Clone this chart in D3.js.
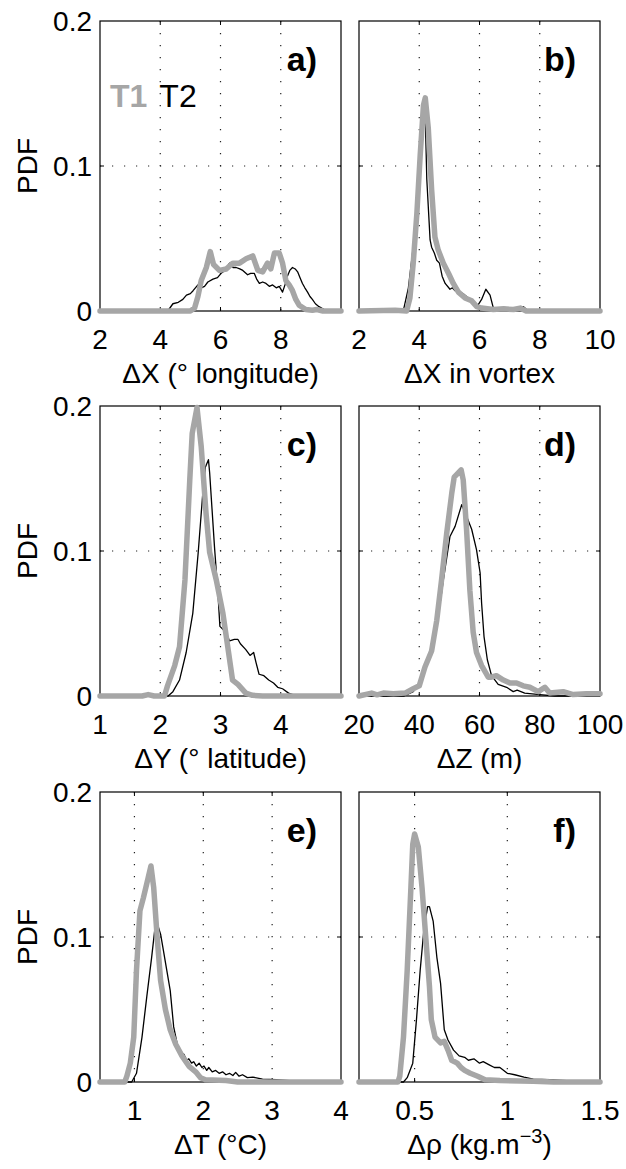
<!DOCTYPE html>
<html>
<head>
<meta charset="utf-8">
<script src="https://cdnjs.cloudflare.com/ajax/libs/d3/7.8.5/d3.min.js"></script>
<style>
  body { margin: 0; background: #fff; }
  svg text { font-family: "Liberation Sans", Arial, Helvetica, sans-serif; }
</style>
</head>
<body>
<div id="chart"></div>
<script>
// ---- data: [x, pdf] pairs ----
var a_T1 = [[2,0],[5.0,0],[5.14,0.002],[5.25,0.010],[5.36,0.021],[5.53,0.030],[5.66,0.041],[5.77,0.032],[5.97,0.028],[6.19,0.029],[6.41,0.033],[6.63,0.033],[6.85,0.036],[7.07,0.038],[7.24,0.028],[7.40,0.027],[7.56,0.033],[7.67,0.029],[7.79,0.040],[7.95,0.040],[8.06,0.033],[8.17,0.021],[8.28,0.018],[8.39,0.014],[8.50,0.008],[8.61,0.004],[8.83,0.001],[9.05,0.0005],[9.2,0.001],[9.4,0],[10,0]];
var a_T2 = [[2,0],[4.25,0],[4.42,0.005],[4.6,0.006],[4.75,0.008],[4.87,0.011],[5.0,0.012],[5.09,0.014],[5.25,0.018],[5.36,0.016],[5.47,0.017],[5.58,0.020],[5.75,0.022],[5.9,0.023],[6.02,0.026],[6.15,0.028],[6.30,0.033],[6.42,0.030],[6.52,0.030],[6.64,0.029],[6.74,0.028],[6.90,0.025],[7.0,0.026],[7.12,0.026],[7.2,0.022],[7.29,0.019],[7.4,0.020],[7.51,0.019],[7.62,0.017],[7.73,0.018],[7.85,0.016],[7.95,0.017],[8.06,0.013],[8.14,0.018],[8.22,0.024],[8.3,0.028],[8.39,0.030],[8.48,0.029],[8.56,0.027],[8.64,0.023],[8.72,0.019],[8.80,0.016],[8.89,0.013],[8.97,0.010],[9.05,0.008],[9.15,0.005],[9.27,0.003],[9.44,0.001],[9.6,0],[10,0]];

var b_T1 = [[2,0],[3.2,0.0005],[3.58,0],[3.69,0.009],[3.80,0.033],[3.92,0.067],[4.03,0.107],[4.14,0.142],[4.20,0.147],[4.30,0.126],[4.41,0.084],[4.52,0.051],[4.63,0.042],[4.80,0.033],[4.97,0.026],[5.13,0.019],[5.30,0.013],[5.52,0.009],[5.74,0.007],[5.91,0.003],[6.07,0.002],[6.46,0.001],[6.8,0.0015],[7.13,0.001],[7.35,0.002],[7.55,0],[10,0]];
var b_T2 = [[2,0],[3.47,0],[3.64,0.016],[3.80,0.044],[3.92,0.072],[4.03,0.107],[4.14,0.128],[4.20,0.134],[4.25,0.091],[4.36,0.049],[4.41,0.044],[4.50,0.040],[4.58,0.035],[4.67,0.033],[4.76,0.024],[4.86,0.019],[5.02,0.015],[5.10,0.016],[5.19,0.014],[5.35,0.013],[5.45,0.012],[5.57,0.010],[5.79,0.005],[5.95,0.004],[6.07,0.008],[6.21,0.015],[6.35,0.011],[6.46,0.002],[6.68,0.001],[7.0,0.001],[7.24,0.002],[7.46,0.003],[7.62,0],[10,0]];

var c_T1 = [[1,0],[1.7,0],[1.8,0.001],[1.9,0],[2.07,0],[2.12,0.007],[2.24,0.021],[2.32,0.034],[2.41,0.080],[2.49,0.149],[2.53,0.181],[2.61,0.199],[2.68,0.172],[2.76,0.126],[2.82,0.099],[2.93,0.080],[3.04,0.057],[3.12,0.034],[3.20,0.011],[3.29,0.008],[3.42,0.002],[3.53,0.0005],[3.7,0],[5,0]];
var c_T2 = [[1,0],[2.13,0],[2.21,0.003],[2.32,0.011],[2.43,0.030],[2.54,0.057],[2.63,0.099],[2.71,0.142],[2.75,0.158],[2.80,0.163],[2.82,0.154],[2.90,0.103],[2.96,0.069],[2.99,0.048],[3.09,0.044],[3.15,0.038],[3.23,0.039],[3.29,0.039],[3.33,0.036],[3.42,0.032],[3.49,0.028],[3.55,0.030],[3.59,0.023],[3.64,0.015],[3.72,0.014],[3.80,0.011],[3.88,0.009],[3.95,0.006],[4.03,0.005],[4.13,0.002],[4.20,0.001],[4.3,0],[5,0]];

var d_T1 = [[20,0],[24.2,0.002],[26,0.0008],[28.1,0.002],[31.4,0.0015],[35.3,0.002],[38.0,0.005],[40.0,0.007],[41.9,0.020],[44.1,0.031],[45.8,0.052],[47.4,0.080],[49.1,0.112],[50.8,0.140],[51.6,0.151],[53.9,0.156],[54.6,0.149],[55.7,0.115],[56.8,0.073],[57.9,0.044],[59.0,0.030],[60.7,0.021],[62.9,0.013],[63.9,0.013],[65.6,0.014],[67.9,0.011],[70.1,0.009],[72.3,0.009],[74.5,0.007],[76.7,0.006],[79.5,0.003],[81.7,0.006],[83.3,0.002],[87.8,0.003],[91.1,0.001],[95.5,0.0015],[100,0.0015]];
var d_T2 = [[20,0],[35,0],[38.0,0.003],[40.0,0.009],[42,0.018],[44,0.030],[46,0.050],[48,0.080],[50.2,0.110],[51.9,0.117],[54.1,0.132],[55.7,0.124],[57.4,0.115],[59.0,0.101],[60.2,0.085],[60.7,0.064],[61.5,0.041],[62.6,0.025],[64.0,0.014],[66.2,0.008],[69.0,0.006],[71.2,0.003],[72.5,0.004],[75,0.002],[80,0.001],[85,0],[100,0]];

var e_T1 = [[0.5,0],[0.86,0],[0.89,0.004],[0.94,0.013],[0.99,0.031],[1.03,0.077],[1.08,0.118],[1.13,0.127],[1.20,0.141],[1.24,0.149],[1.28,0.134],[1.33,0.100],[1.38,0.070],[1.45,0.050],[1.52,0.036],[1.60,0.026],[1.69,0.018],[1.79,0.011],[1.89,0.007],[1.96,0.003],[2.03,0.0015],[2.33,0.001],[2.5,0],[4,0]];
var e_T2 = [[0.5,0],[0.94,0],[0.96,0.0],[1.03,0.006],[1.11,0.031],[1.18,0.059],[1.25,0.086],[1.30,0.107],[1.34,0.108],[1.38,0.102],[1.42,0.091],[1.47,0.077],[1.52,0.063],[1.57,0.038],[1.64,0.022],[1.68,0.020],[1.72,0.019],[1.76,0.015],[1.79,0.016],[1.83,0.013],[1.86,0.014],[1.90,0.011],[1.94,0.013],[1.98,0.010],[2.01,0.011],[2.05,0.008],[2.08,0.010],[2.13,0.007],[2.18,0.008],[2.23,0.006],[2.28,0.007],[2.33,0.005],[2.38,0.006],[2.43,0.0045],[2.47,0.0066],[2.52,0.004],[2.57,0.005],[2.64,0.003],[2.72,0.0034],[2.86,0.002],[3.06,0.0016],[3.25,0.001],[3.5,0.001],[4,0]];

var f_T1 = [[0.2,0],[0.41,0],[0.42,0.004],[0.44,0.031],[0.46,0.077],[0.48,0.134],[0.49,0.164],[0.50,0.171],[0.52,0.162],[0.54,0.134],[0.56,0.100],[0.58,0.066],[0.59,0.043],[0.61,0.031],[0.64,0.027],[0.66,0.028],[0.68,0.022],[0.70,0.015],[0.73,0.013],[0.75,0.010],[0.77,0.008],[0.80,0.006],[0.84,0.004],[0.88,0.0016],[0.96,0.001],[1.14,0.0005],[1.25,0],[1.5,0]];
var f_T2 = [[0.2,0],[0.44,0],[0.46,0.003],[0.49,0.013],[0.51,0.043],[0.53,0.077],[0.55,0.105],[0.57,0.121],[0.58,0.121],[0.60,0.111],[0.62,0.086],[0.64,0.068],[0.66,0.036],[0.68,0.029],[0.71,0.022],[0.74,0.018],[0.77,0.017],[0.79,0.015],[0.82,0.016],[0.85,0.013],[0.87,0.014],[0.90,0.012],[0.93,0.010],[0.96,0.010],[1.00,0.006],[1.04,0.005],[1.09,0.0034],[1.14,0.002],[1.23,0.0016],[1.32,0.001],[1.4,0],[1.5,0]];

// axis settings
var yTicks = [0, 0.1, 0.2];
var yTickLabels = ["0", "0.1", "0.2"];
var panelNames = ["a)", "b)", "c)", "d)", "e)", "f)"];
var xDomains = [[2, 10], [2, 10], [1, 5], [20, 100], [0.5, 4], [0.2, 1.5]];
var xTickLabels = [[2, 4, 6, 8], [2, 4, 6, 8, 10], [1, 2, 3, 4], [20, 40, 60, 80, 100], [1, 2, 3, 4], [0.5, 1, 1.5]];
var xGrid = [[4, 6, 8], [4, 6, 8], [2, 3, 4], [40, 60, 80], [1, 2, 3], [0.5, 1]];
var xLabels = ["ΔX (° longitude)", "ΔX in vortex", "ΔY (° latitude)", "ΔZ (m)", "ΔT (°C)", "Δρ (kg.m"];
var seriesT1 = [a_T1, b_T1, c_T1, d_T1, e_T1, f_T1];
var seriesT2 = [a_T2, b_T2, c_T2, d_T2, e_T2, f_T2];

var width = 626, height = 1169;
var colX = [100, 359], colW = 241;
var rowY = [21, 406, 792], rowH = 290;
var gray = "#a6a6a6";
var fs = 28;

var svg = d3.select("#chart").append("svg")
    .attr("width", width).attr("height", height);

panelNames.forEach(function(name, i) {
    var col = i % 2, row = Math.floor(i / 2);
    var x0 = colX[col], y0 = rowY[row];

    var x = d3.scaleLinear().domain(xDomains[i]).range([x0, x0 + colW]);
    var y = d3.scaleLinear().domain([0, 0.2]).range([y0 + rowH, y0]);

    var g = svg.append("g");

    // dotted grid
    g.selectAll(".vgrid").data(xGrid[i]).enter().append("line")
        .attr("x1", d => x(d)).attr("x2", d => x(d))
        .attr("y1", y0).attr("y2", y0 + rowH)
        .attr("stroke", "#222").attr("stroke-width", 1.2)
        .attr("stroke-dasharray", "1.2 10.8");
    g.append("line")
        .attr("x1", x0).attr("x2", x0 + colW)
        .attr("y1", y(0.1)).attr("y2", y(0.1))
        .attr("stroke", "#222").attr("stroke-width", 1.2)
        .attr("stroke-dasharray", "1.2 10.8");

    // inward tick marks
    g.selectAll(".xt").data(xGrid[i]).enter().append("path")
        .attr("d", d => "M" + x(d) + "," + (y0 + rowH) + "v-4M" + x(d) + "," + y0 + "v4")
        .attr("stroke", "#000").attr("stroke-width", 1);
    g.append("path")
        .attr("d", "M" + x0 + "," + y(0.1) + "h4M" + (x0 + colW) + "," + y(0.1) + "h-4")
        .attr("stroke", "#000").attr("stroke-width", 1);

    // frame
    g.append("rect")
        .attr("x", x0).attr("y", y0).attr("width", colW).attr("height", rowH)
        .attr("fill", "none").attr("stroke", "#000").attr("stroke-width", 1.2);

    var line = d3.line().x(d => x(d[0])).y(d => y(d[1]));

    g.append("path").datum(seriesT2[i])
        .attr("d", line).attr("fill", "none")
        .attr("stroke", "#000").attr("stroke-width", 1.3)
        .attr("stroke-linejoin", "round");
    g.append("path").datum(seriesT1[i])
        .attr("d", line).attr("fill", "none")
        .attr("stroke", gray).attr("stroke-width", 5.5)
        .attr("stroke-linejoin", "round").attr("stroke-linecap", "round");

    // x tick labels
    g.selectAll(".xl").data(xTickLabels[i]).enter().append("text")
        .attr("x", d => x(d)).attr("y", y0 + rowH + 38)
        .attr("text-anchor", "middle").attr("font-size", fs)
        .text(d => d);

    // x axis label
    var xl = g.append("text")
        .attr("x", x0 + colW / 2).attr("y", y0 + rowH + 72)
        .attr("text-anchor", "middle").attr("font-size", fs)
        .text(xLabels[i]);
    if (i === 5) {
        xl.append("tspan").attr("baseline-shift", "super").attr("font-size", 20).text("−3");
        xl.append("tspan").text(")");
    }

    // panel letter
    g.append("text")
        .attr("x", x0 + colW - 24).attr("y", y0 + 50)
        .attr("text-anchor", "end").attr("font-size", 34).attr("font-weight", "bold")
        .text(name);

    if (col === 0) {
        g.selectAll(".yl").data(yTicks).enter().append("text")
            .attr("x", x0 - 8).attr("y", d => y(d) + 10)
            .attr("text-anchor", "end").attr("font-size", fs)
            .text((d, k) => yTickLabels[k]);
        g.append("text")
            .attr("transform", "translate(37," + (y0 + rowH / 2) + ") rotate(-90)")
            .attr("text-anchor", "middle").attr("font-size", fs)
            .text("PDF");
    }

    if (i === 0) {
        var lg = g.append("text").attr("x", x0 + 10).attr("y", y0 + 86).attr("font-size", 32);
        lg.append("tspan").attr("fill", gray).attr("font-weight", "bold").text("T1");
        lg.append("tspan").attr("fill", "#000").attr("dx", 12).text("T2");
    }
});
</script>
</body>
</html>
